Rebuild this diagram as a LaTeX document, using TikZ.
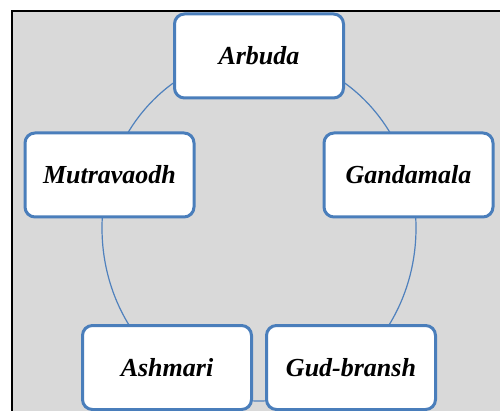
\documentclass[tikz,border=0pt]{standalone}
\usepackage{fontspec}
\setmainfont{Liberation Serif}
\definecolor{bggray}{HTML}{D9D9D9}
\definecolor{boxblue}{RGB}{74,126,187}
\definecolor{ringblue}{RGB}{79,129,189}
\begin{document}
\begin{tikzpicture}[x=1pt,y=-1pt,
  stagebox/.style={draw=boxblue, line width=3pt, fill=white, rounded corners=10pt,
    minimum width=169pt, minimum height=84pt, inner sep=0pt,
    font=\fontsize{26}{30}\selectfont\bfseries\itshape, text=black},
  ring/.style={draw=ringblue, line width=1.2pt}]
\useasboundingbox (0,0) rectangle (500,411);
\clip (0,0) rectangle (500,411);
\fill[white] (0,0) rectangle (500,411);
\draw[fill=bggray, draw=black, line width=2pt] (12,11) rectangle (520,430);
\coordinate (c) at (259,228);
\draw[ring] (c) ellipse [x radius=157pt, y radius=173pt];
\node[stagebox] (arbuda) at (259,56) {Arbuda};
\node[stagebox] (mutra) at (109.5,175) {Mutravaodh};
\node[stagebox] (ganda) at (408.5,175) {Gandamala};
\node[stagebox] (ashmari) at (167,367.5) {Ashmari};
\node[stagebox] (gud) at (351,367.5) {Gud-bransh};
\end{tikzpicture}
\end{document}
